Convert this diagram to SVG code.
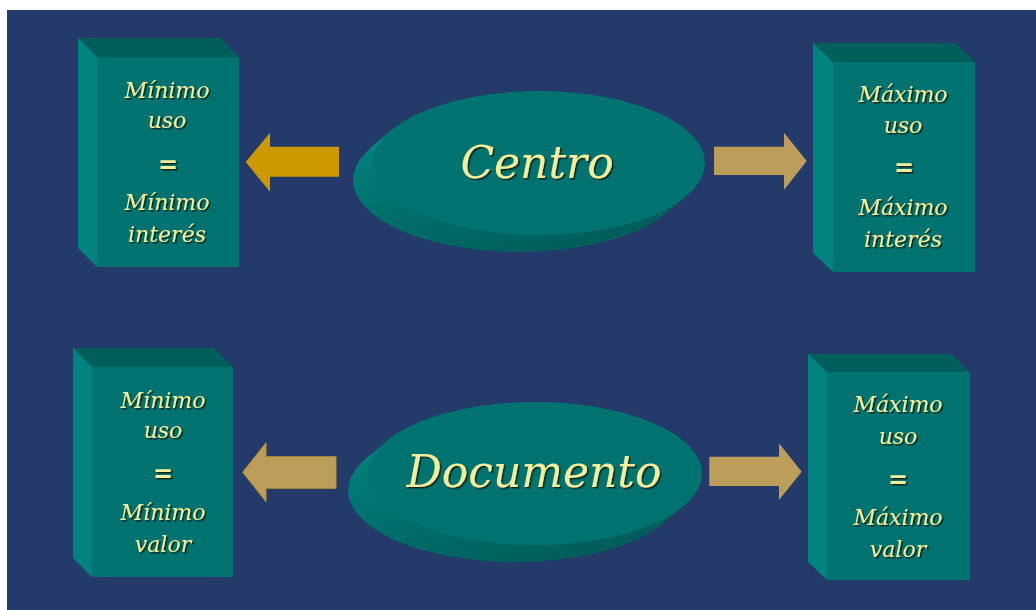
<svg xmlns="http://www.w3.org/2000/svg" width="1036" height="610" viewBox="0 0 1036 610">
<defs>
<style>
.front{fill:#007371}
.side{fill:#00827e}
.top{fill:#005e5b}
.lbl{font-family:"DejaVu Serif","Liberation Serif",serif;font-style:italic;font-size:22px;fill:#f2ee9c;text-anchor:middle;filter:url(#sh)}
.eq{font-family:"DejaVu Sans","Liberation Sans",sans-serif;font-weight:bold;font-size:24px;fill:#f2ee9c;text-anchor:middle;filter:url(#sh)}
.big{font-family:"DejaVu Serif","Liberation Serif",serif;font-style:italic;font-size:44px;fill:#f2ee9c;text-anchor:middle;filter:url(#sh)}
.disc{fill:#007371}
.arr{fill:#bc9d5a}
.arr2{fill:#cc9900}
</style>
<filter id="sh" x="-20%" y="-20%" width="140%" height="150%">
<feDropShadow dx="1.5" dy="1.5" stdDeviation="0.6" flood-color="#0a1a10" flood-opacity="0.9"/>
</filter>
<linearGradient id="dg" x1="0" y1="0" x2="0.6" y2="1">
<stop offset="0" stop-color="#008884"/>
<stop offset="1" stop-color="#005e5b"/>
</linearGradient>
</defs>
<rect x="0" y="0" width="1036" height="610" fill="#ffffff"/>
<rect x="7" y="10" width="1029" height="600" fill="#233a6b"/>

<g id="connectors">
<polygon class="arr2" points="245.7,162 270,132.7 270,146.7 339,146.7 339,176.7 270,176.7 270,191.7"/>
<polygon class="arr" points="806.7,161 784,132.7 784,146.7 714,146.7 714,175 784,175 784,190"/>
<polygon class="arr" stroke="#b8902e" stroke-width="1" points="242.7,472.3 266,442.7 266,456.7 336,456.7 336,488.3 266,488.3 266,501.7"/>
<polygon class="arr" points="801.7,471.7 779,443.3 779,456.7 709.3,456.7 709.3,486 779,486 779,500"/>
</g>

<g id="box-min-uso-interes">
<polygon class="top" points="78,38 220,38 239,57 97,57"/>
<polygon class="side" points="78,38 97,57 97,267 78,248"/>
<rect class="front" x="97" y="57" width="142" height="210"/>
<text class="lbl" x="167" y="98">Mínimo</text>
<text class="lbl" x="167" y="128">uso</text>
<text class="eq" x="168" y="173">=</text>
<text class="lbl" x="167" y="210">Mínimo</text>
<text class="lbl" x="167" y="242">interés</text>
</g>

<g id="box-max-uso-interes">
<polygon class="top" points="813,43 956,43 975,62 833,62"/>
<polygon class="side" points="813,43 833,62 833,272 813,253"/>
<rect class="front" x="833" y="62" width="142" height="210"/>
<text class="lbl" x="903" y="102">Máximo</text>
<text class="lbl" x="903" y="133">uso</text>
<text class="eq" x="904" y="176">=</text>
<text class="lbl" x="903" y="215">Máximo</text>
<text class="lbl" x="903" y="247">interés</text>
</g>

<g id="box-min-uso-valor">
<polygon class="top" points="73,348 214,348 233,367 92,367"/>
<polygon class="side" points="73,348 92,367 92,577 73,558"/>
<rect class="front" x="92" y="367" width="141" height="210"/>
<text class="lbl" x="163" y="408">Mínimo</text>
<text class="lbl" x="163" y="438">uso</text>
<text class="eq" x="163" y="482">=</text>
<text class="lbl" x="163" y="520">Mínimo</text>
<text class="lbl" x="163" y="552">valor</text>
</g>

<g id="box-max-uso-valor">
<polygon class="top" points="808,354 951,354 970,372 827,372"/>
<polygon class="side" points="808,354 827,372 827,580 808,562"/>
<rect class="front" x="827" y="372" width="143" height="208"/>
<text class="lbl" x="898" y="412">Máximo</text>
<text class="lbl" x="898" y="444">uso</text>
<text class="eq" x="898" y="488">=</text>
<text class="lbl" x="898" y="525">Máximo</text>
<text class="lbl" x="898" y="557">valor</text>
</g>

<g id="disc-centro">
<ellipse cx="519" cy="180" rx="166" ry="72" fill="url(#dg)"/>
<polygon points="391,130.3 371,147.3 667,212.7 687,195.7" fill="url(#dg)"/>
<ellipse class="disc" cx="539" cy="163" rx="166" ry="72"/>
<text class="big" x="537" y="178">Centro</text>
</g>

<g id="disc-documento">
<ellipse cx="515" cy="490.5" rx="167" ry="71.5" fill="url(#dg)"/>
<polygon points="387,441 367,458 663,523 683,506" fill="url(#dg)"/>
<ellipse class="disc" cx="535" cy="473.5" rx="167" ry="71.5"/>
<text class="big" x="534" y="487">Documento</text>
</g>
</svg>
